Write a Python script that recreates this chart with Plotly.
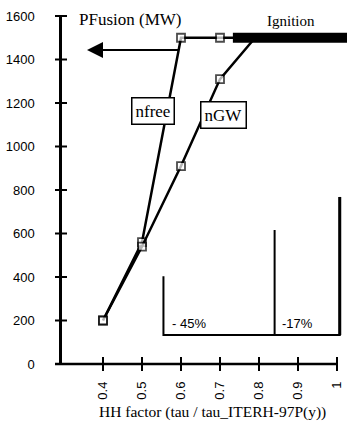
import plotly.graph_objects as go

# HH factor scan and fusion power (MW)
hh_nfree = [0.4, 0.5, 0.6, 0.7, 0.74]
p_nfree = [200, 560, 1500, 1500, 1500]
nfree_marked = [True, True, True, True, False]

hh_ngw = [0.4, 0.5, 0.6, 0.7, 0.79]
p_ngw = [200, 540, 910, 1310, 1500]
ngw_marked = [True, True, True, True, False]

# ignition level
ignition_hh = [0.733, 1.03]
ignition_p = [1500, 1500]

# margin brackets at the bottom
bracket_hh = [0.555, 0.84, 1.007]
bracket_top = [404, 616, 768]
bracket_base = 133
bracket_labels = ["- 45%", "-17%"]
bracket_label_hh = [0.572, 0.854]
bracket_label_p = 184

x_ticks = [0.4, 0.5, 0.6, 0.7, 0.8, 0.9, 1.0]
x_ticktext = ["0.4", "0.5", "0.6", "0.7", "0.8", "0.9", "1"]
y_ticks = [0, 200, 400, 600, 800, 1000, 1200, 1400, 1600]

X_RANGE = [0.2949, 1.0256]
Y_RANGE = [0, 1600]

SERIF = "Liberation Serif, Times New Roman, serif"
SANS = "Liberation Sans, Arial, sans-serif"

fig = go.Figure()

# ignition band
fig.add_trace(go.Scatter(
    x=ignition_hh, y=ignition_p, mode="lines",
    line=dict(color="black", width=10), hoverinfo="skip", showlegend=False))

fig.add_trace(go.Scatter(
    x=hh_nfree, y=p_nfree, mode="lines+markers",
    line=dict(color="black", width=2.5),
    marker=dict(symbol="square", size=[8 if m else 0 for m in nfree_marked],
                color="white", line=dict(color="black", width=1.8)),
    showlegend=False))

fig.add_trace(go.Scatter(
    x=hh_ngw, y=p_ngw, mode="lines+markers",
    line=dict(color="black", width=2.5),
    marker=dict(symbol="square", size=[8 if m else 0 for m in ngw_marked],
                color="white", line=dict(color="black", width=1.8)),
    showlegend=False))

# bracket lines
fig.add_trace(go.Scatter(
    x=[bracket_hh[0], bracket_hh[0], bracket_hh[2], bracket_hh[2]],
    y=[bracket_top[0], bracket_base, bracket_base, bracket_top[2]],
    mode="lines", line=dict(color="black", width=2),
    hoverinfo="skip", showlegend=False))
fig.add_trace(go.Scatter(
    x=[bracket_hh[1], bracket_hh[1]], y=[bracket_top[1], bracket_base],
    mode="lines", line=dict(color="black", width=2),
    hoverinfo="skip", showlegend=False))
fig.add_trace(go.Scatter(
    x=[bracket_hh[2], bracket_hh[2]], y=[bracket_top[2], bracket_base],
    mode="lines", line=dict(color="black", width=3),
    hoverinfo="skip", showlegend=False))

for txt, xv in zip(bracket_labels, bracket_label_hh):
    fig.add_annotation(x=xv, y=bracket_label_p, text=txt, showarrow=False,
                       xanchor="left", yanchor="middle",
                       font=dict(family=SANS, size=13, color="black"))

# axis decorations: x axis line and crossing ticks
plot_w = 347 - 62
plot_h = 364 - 16
x_end = (1.0 - X_RANGE[0]) / (X_RANGE[1] - X_RANGE[0])
shapes = [dict(type="line", xref="paper", yref="paper", x0=-7 / plot_w, x1=x_end,
               y0=0, y1=0, line=dict(color="black", width=2.5))]
for v in x_ticks:
    px = (v - X_RANGE[0]) / (X_RANGE[1] - X_RANGE[0])
    shapes.append(dict(type="line", xref="paper", yref="paper", x0=px, x1=px,
                       y0=-7 / plot_h, y1=7 / plot_h,
                       line=dict(color="black", width=2)))
for v in y_ticks:
    py = (v - Y_RANGE[0]) / (Y_RANGE[1] - Y_RANGE[0])
    shapes.append(dict(type="line", xref="paper", yref="paper",
                       x0=-7 / plot_w, x1=5 / plot_w, y0=py, y1=py,
                       line=dict(color="black", width=2)))

# arrow pointing to the power axis
fig.add_annotation(x=0.359, y=1444, ax=0.597, ay=1444, xref="x", yref="y",
                   axref="x", ayref="y", text="", showarrow=True,
                   arrowhead=2, arrowsize=1.6, arrowwidth=2, arrowcolor="black")

fig.add_annotation(x=0.528, y=1161, text="nfree", showarrow=False,
                   font=dict(family=SERIF, size=17, color="black"),
                   bordercolor="black", borderwidth=1.5, borderpad=3,
                   bgcolor="white")
fig.add_annotation(x=0.71, y=1145, text="nGW", showarrow=False,
                   font=dict(family=SERIF, size=17, color="black"),
                   bordercolor="black", borderwidth=1.5, borderpad=3,
                   bgcolor="white")

fig.add_annotation(xref="paper", yref="paper", x=15 / plot_w, y=(364 - 20) / plot_h,
                   text="PFusion (MW)", showarrow=False, xanchor="left",
                   yanchor="middle", font=dict(family=SERIF, size=17, color="black"))
fig.add_annotation(xref="paper", yref="paper", x=(265 - 62) / plot_w,
                   y=(364 - 21) / plot_h, text="Ignition", showarrow=False,
                   xanchor="left", yanchor="middle",
                   font=dict(family=SERIF, size=15, color="black"))
fig.add_annotation(xref="paper", yref="paper", x=(212 - 62) / plot_w,
                   y=(364 - 412) / plot_h, text="HH factor (tau / tau_ITERH-97P(y))",
                   showarrow=False, xanchor="center", yanchor="middle",
                   font=dict(family=SERIF, size=15.5, color="black"))

fig.update_layout(
    width=347, height=429,
    margin=dict(l=62, r=0, t=16, b=65),
    paper_bgcolor="white", plot_bgcolor="white",
    shapes=shapes,
    xaxis=dict(range=X_RANGE, tickvals=x_ticks, ticktext=x_ticktext,
               tickangle=-90, ticks="", showgrid=False, zeroline=False,
               showline=False, ticklabelstandoff=14,
               tickfont=dict(family=SANS, size=13, color="black")),
    yaxis=dict(range=Y_RANGE, tickvals=y_ticks, ticks="", showgrid=False,
               zeroline=False, showline=True, linecolor="black", linewidth=2.5,
               ticklabelstandoff=22,
               tickfont=dict(family=SANS, size=13, color="black")),
)

fig.write_html("out.html")
